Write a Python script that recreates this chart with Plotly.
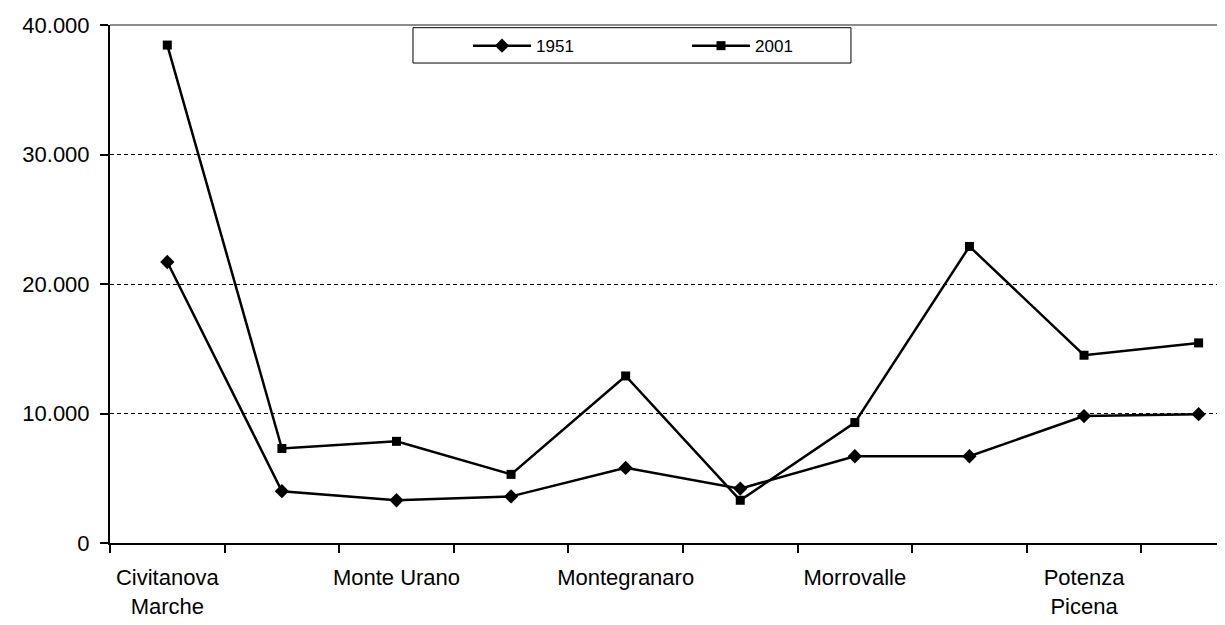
import plotly.graph_objects as go

categories = ["Civitanova Marche", "Monte San Giusto", "Monte Urano", "Montecosaro",
              "Montegranaro", "Montelupone", "Morrovalle", "Porto Sant'Elpidio",
              "Potenza Picena", "Sant'Elpidio a Mare"]
tick_labels = ["Civitanova<br>Marche", "", "Monte Urano", "", "Montegranaro", "",
               "Morrovalle", "", "Potenza<br>Picena", ""]
pop_1951 = [21700, 4000, 3300, 3600, 5800, 4200, 6700, 6700, 9800, 9950]
pop_2001 = [38450, 7300, 7850, 5300, 12900, 3300, 9300, 22900, 14500, 15450]
y_ticks = [0, 10000, 20000, 30000, 40000]

fig = go.Figure()
fig.add_trace(go.Scatter(x=categories, y=pop_1951, name="1951", mode="lines+markers",
                         line=dict(color="black", width=2.5),
                         marker=dict(symbol="diamond", size=11, color="black")))
fig.add_trace(go.Scatter(x=categories, y=pop_2001, name="2001", mode="lines+markers",
                         line=dict(color="black", width=2.5),
                         marker=dict(symbol="square", size=9, color="black")))

# plot-area top border
fig.add_shape(type="line", xref="x domain", yref="y domain", x0=0, x1=1, y0=1, y1=1,
              line=dict(color="#8c8c8c", width=2))
# legend frame
fig.add_shape(type="rect", xref="x domain", yref="y domain",
              x0=0.2698, x1=0.6598, y0=0.9266, y1=0.9948,
              line=dict(color="black", width=1), fillcolor="white", layer="below")

fig.update_layout(
    width=1225, height=625,
    margin=dict(l=102, r=0, t=17, b=90),
    paper_bgcolor="white", plot_bgcolor="white",
    separators=",.",
    font=dict(family="Liberation Sans, Arial, sans-serif", size=22, color="black"),
    showlegend=True,
    legend=dict(orientation="h", x=0.3188, xanchor="left", y=0.994, yanchor="top",
                bgcolor="rgba(0,0,0,0)", borderwidth=0,
                entrywidth=146, entrywidthmode="pixels", itemwidth=58,
                font=dict(family="Liberation Sans Narrow, Liberation Sans, sans-serif", size=17)),
    xaxis=dict(type="category", categoryorder="array", categoryarray=categories,
               range=[-0.5, 9.30], tickson="boundaries", ticks="outside", ticklen=8,
               tickwidth=1.5, tickcolor="black",
               tickmode="array", tickvals=categories, ticktext=tick_labels,
               showline=True, linecolor="black", linewidth=2, showgrid=False,
               tickangle=0, zeroline=False, ticklabelstandoff=14),
    yaxis=dict(range=[0, 40000], tickmode="array", tickvals=y_ticks, tickformat=",d",
               ticks="outside", ticklen=8, tickwidth=1.5, tickcolor="black",
               showline=True, linecolor="black", linewidth=2,
               showgrid=True, gridcolor="black", gridwidth=1, griddash="4px,3px",
               zeroline=False, ticklabelstandoff=6),
)

fig.write_html("out.html")
